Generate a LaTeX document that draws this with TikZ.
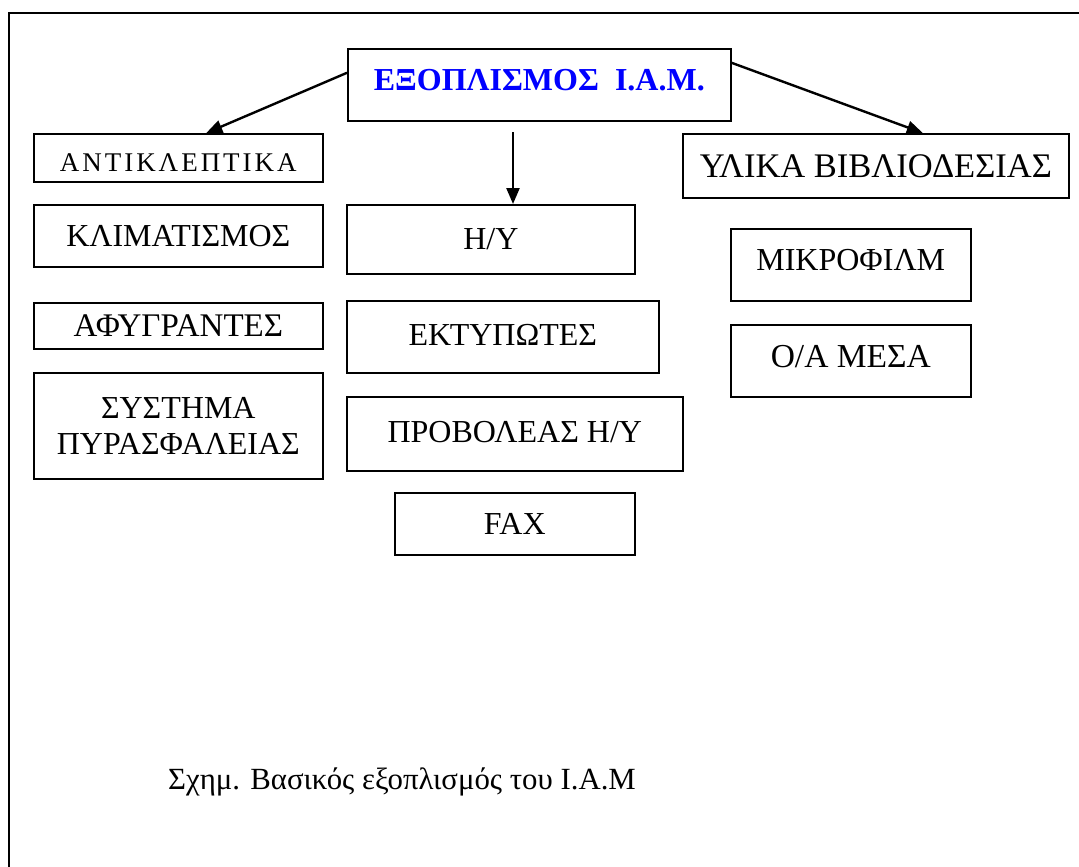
\documentclass[tikz,border=0pt]{standalone}
\usepackage{fontspec}
\setmainfont{Liberation Serif}
\usepackage{xcolor}
\definecolor{iamBlue}{HTML}{0000FF}
\usetikzlibrary{arrows.meta,calc}

\begin{document}
\begin{tikzpicture}[x=1pt,y=-1pt,
    item/.style={draw, line width=1.6pt, anchor=north west, inner sep=0pt,
      align=center, font=\fontsize{32}{36}\selectfont},
    lift/.style={text depth=#1},
    link/.style={line width=2.4pt, -{Triangle[length=16pt,width=13pt]}}]
  \useasboundingbox (0,0) rectangle (1079,867);
  % outer frame (only its top and left edges fall in the picture)
  \draw[line width=2pt] (9,867) -- (9,13) -- (1079,13);
  % the root box
  \node[item, minimum width=383pt, minimum height=72pt, text=iamBlue, lift=10pt,
        font=\fontsize{32}{36}\selectfont\bfseries] (iam) at (347,48)
    {ΕΞΟΠΛΙΣΜΟΣ\ \ Ι.Α.Μ.};
  % left column
  \node[item, minimum width=289pt, minimum height=48pt, text height=27pt,
        font=\fontsize{27}{30}\selectfont\addfontfeature{LetterSpace=11}] (anti) at (33,133)
    {ΑΝΤΙΚΛΕΠΤΙΚΑ};
  \node[item, minimum width=289pt, minimum height=62pt] (klima) at (33,204) {ΚΛΙΜΑΤΙΣΜΟΣ};
  \node[item, minimum width=289pt, minimum height=46pt,
        font=\fontsize{33}{36}\selectfont] (afyg) at (33,302) {ΑΦΥΓΡΑΝΤΕΣ};
  \node[item, minimum width=289pt, minimum height=106pt] (pyr) at (33,372)
    {ΣΥΣΤΗΜΑ\\ΠΥΡΑΣΦΑΛΕΙΑΣ};
  % middle column
  \node[item, minimum width=288pt, minimum height=69pt] (hy) at (346,204) {Η/Υ};
  \node[item, minimum width=312pt, minimum height=72pt, lift=4pt] (ekt) at (346,300) {ΕΚΤΥΠΩΤΕΣ};
  \node[item, minimum width=336pt, minimum height=74pt, lift=4pt] (prob) at (346,396) {ΠΡΟΒΟΛΕΑΣ Η/Υ};
  \node[item, minimum width=240pt, minimum height=62pt] (fax) at (394,492) {FAX};
  % right column
  \node[item, minimum width=386pt, minimum height=64pt,
        font=\fontsize{34.5}{38}\selectfont] (bind) at (682,133) {ΥΛΙΚΑ ΒΙΒΛΙΟΔΕΣΙΑΣ};
  \node[item, minimum width=240pt, minimum height=72pt, lift=9pt] (mikro) at (730,228) {ΜΙΚΡΟΦΙΛΜ};
  \node[item, minimum width=240pt, minimum height=72pt, lift=9pt,
        font=\fontsize{33.5}{36}\selectfont] (oa) at (730,324) {Ο/Α ΜΕΣΑ};
  % arrows out of the root
  \coordinate (drop) at (513,132);
  \draw[link] ([yshift=12pt]iam.west) -- ([xshift=28pt]anti.north);
  \draw[link] ([yshift=22pt]iam.east) -- ([xshift=47pt]bind.north);
  \draw[link] (drop) -- (drop |- hy.north);
  % caption
  \node[anchor=base west, inner sep=0pt, font=\fontsize{30.8}{34}\selectfont] (cap) at (168,789)
    {Σχημ. Βασικός εξοπλισμός του Ι.Α.Μ};
\end{tikzpicture}
\end{document}
